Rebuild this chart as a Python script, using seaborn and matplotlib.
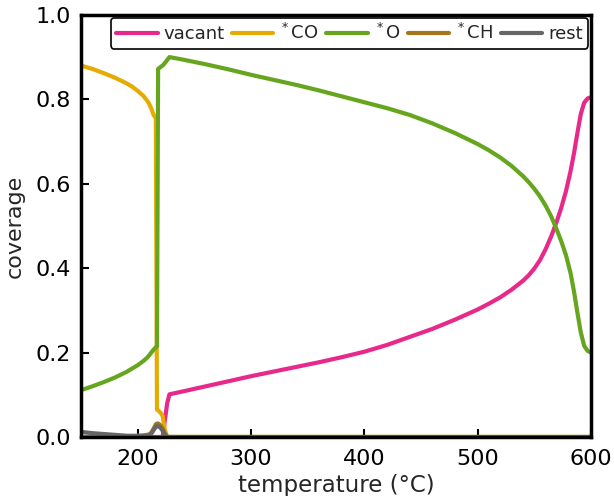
import numpy as np
import pandas as pd
import matplotlib
matplotlib.use("Agg")
import matplotlib.pyplot as plt
import seaborn as sns

temperature = [150, 160, 170, 180, 190, 195, 200, 205, 208, 210, 212, 214, 216, 217, 218, 220, 222, 224, 226, 228,
               240, 260, 280, 300, 320, 340, 360, 380, 400, 420, 440,
               460, 480, 500, 510, 520, 530, 540,
               545, 550, 555, 560, 565, 570, 574, 578, 582, 585, 588, 591, 594, 597, 600]

vacant = [0.0, 0.0, 0.0, 0.0, 0.0, 0.0, 0.0, 0.0, 0.0, 0.0, 0.0, 0.0, 0.0, 0.0, 0.0, 0.0, 0.0, 0.04, 0.08, 0.101,
          0.108, 0.12, 0.132, 0.144, 0.155, 0.166, 0.177, 0.189, 0.202, 0.218, 0.237,
          0.256, 0.278, 0.302, 0.316, 0.331, 0.349, 0.37,
          0.383, 0.399, 0.419, 0.445, 0.476, 0.512, 0.545, 0.583, 0.63, 0.672, 0.72, 0.765, 0.792, 0.802, 0.805]

co = [0.88, 0.872, 0.862, 0.851, 0.838, 0.83, 0.82, 0.808, 0.798, 0.79, 0.778, 0.763, 0.755, 0.065, 0.063, 0.058, 0.05, 0.017, 0.0, 0.0,
      0.0, 0.0, 0.0, 0.0, 0.0, 0.0, 0.0, 0.0, 0.0, 0.0, 0.0,
      0.0, 0.0, 0.0, 0.0, 0.0, 0.0, 0.0,
      0.0, 0.0, 0.0, 0.0, 0.0, 0.0, 0.0, 0.0, 0.0, 0.0, 0.0, 0.0, 0.0, 0.0, 0.0]

o = [0.111, 0.12, 0.13, 0.141, 0.154, 0.162, 0.17, 0.18, 0.187, 0.193, 0.2, 0.207, 0.212, 0.215, 0.872, 0.876, 0.88, 0.886, 0.893, 0.90,
     0.894, 0.883, 0.871, 0.858, 0.846, 0.834, 0.821, 0.807, 0.793, 0.779, 0.763,
     0.743, 0.72, 0.694, 0.679, 0.662, 0.642, 0.618,
     0.604, 0.588, 0.57, 0.548, 0.522, 0.49, 0.462, 0.43, 0.388, 0.345, 0.295, 0.248, 0.216, 0.204, 0.20]

ch = [0.0, 0.0, 0.0, 0.001, 0.002, 0.003, 0.003, 0.004, 0.005, 0.006, 0.01, 0.02, 0.03, 0.032, 0.032, 0.028, 0.02, 0.008, 0.0, 0.0,
      0.0, 0.0, 0.0, 0.0, 0.0, 0.0, 0.0, 0.0, 0.0, 0.0, 0.0,
      0.0, 0.0, 0.0, 0.0, 0.0, 0.0, 0.0,
      0.0, 0.0, 0.0, 0.0, 0.0, 0.0, 0.0, 0.0, 0.0, 0.0, 0.0, 0.0, 0.0, 0.0, 0.0]

rest = [0.012, 0.009, 0.007, 0.005, 0.003, 0.002, 0.002, 0.002, 0.003, 0.004, 0.008, 0.016, 0.024, 0.026, 0.026, 0.022, 0.015, 0.006, 0.0, 0.0,
        0.0, 0.0, 0.0, 0.0, 0.0, 0.0, 0.0, 0.0, 0.0, 0.0, 0.0,
        0.0, 0.0, 0.0, 0.0, 0.0, 0.0, 0.0,
        0.0, 0.0, 0.0, 0.0, 0.0, 0.0, 0.0, 0.0, 0.0, 0.0, 0.0, 0.0, 0.0, 0.0, 0.0]

species = ["vacant", "$^*$CO", "$^*$O", "$^*$CH", "rest"]
colors = ["#E7298A", "#E6AB02", "#66A61E", "#A6761D", "#666666"]
xticks = [200, 300, 400, 500, 600]
yticks = [0.0, 0.2, 0.4, 0.6, 0.8, 1.0]

series = [vacant, co, o, ch, rest]
frames = []
for name, vals in zip(species, series):
    frames.append(pd.DataFrame({"temperature": temperature, "coverage": vals, "species": name}))
df = pd.concat(frames, ignore_index=True)

sns.set_style("white")
plt.rcParams["font.family"] = ["DejaVu Sans"]

fig = plt.figure(figsize=(6.14, 4.96), dpi=100)
ax = fig.add_axes([0.132, 0.119, 0.8305, 0.851])

sns.lineplot(data=df, x="temperature", y="coverage", hue="species", hue_order=species,
             palette=dict(zip(species, colors)), estimator=None, sort=False,
             linewidth=3, ax=ax, legend=False)

ax.set_xlim(150, 600)
ax.set_ylim(0, 1)
ax.set_xticks(xticks)
ax.set_yticks(yticks)
ax.set_xticklabels([str(t) for t in xticks])
ax.set_yticklabels([f"{t:.1f}" for t in yticks])
ax.tick_params(direction="in", length=6, width=1.5, labelsize=16, pad=7,
               bottom=True, left=True, colors="black")
ax.tick_params(axis="x", pad=9)
for s in ax.spines.values():
    s.set_linewidth(2.5)
    s.set_color("black")
ax.set_xlabel("temperature (°C)", fontsize=16.5, labelpad=3)
ax.set_ylabel("coverage", fontsize=16, labelpad=8)

handles = ax.get_lines()[:5]
leg = ax.legend(handles, species, loc="upper right", ncol=5, fontsize=13,
                handlelength=2.3, handletextpad=0.33, columnspacing=0.4,
                borderaxespad=0.15, borderpad=0.3, fancybox=True, framealpha=1,
                edgecolor="black")
leg.get_frame().set_linewidth(1.2)

fig.savefig("out.png", dpi=100)
